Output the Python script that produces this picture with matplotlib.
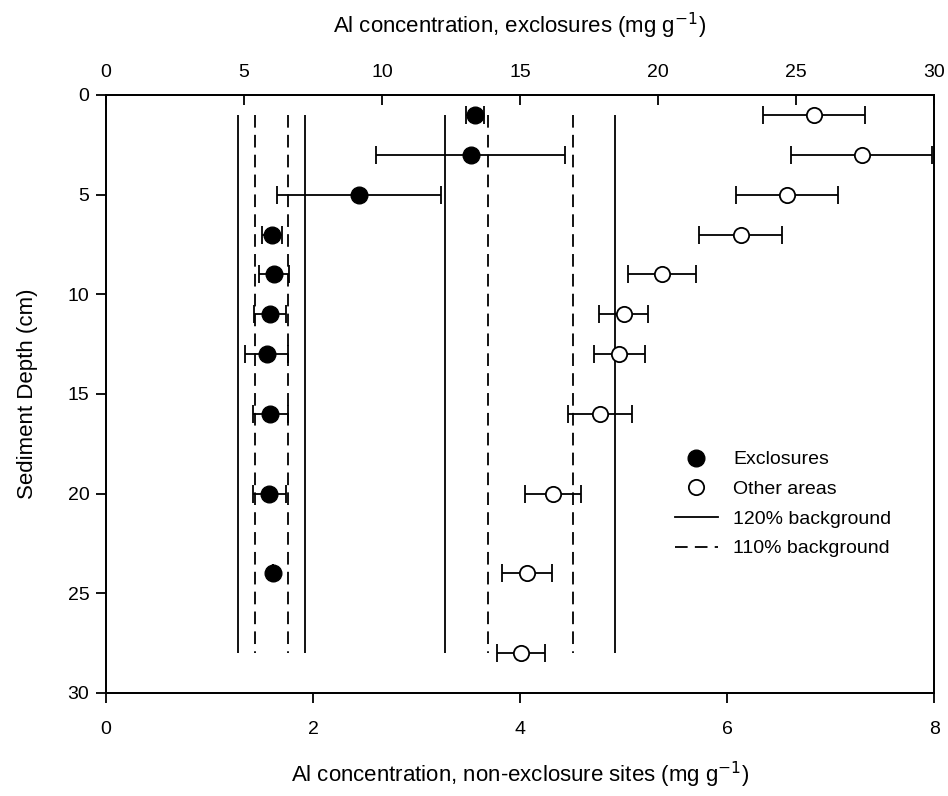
import matplotlib
matplotlib.use("Agg")
import matplotlib.pyplot as plt
from matplotlib.lines import Line2D

plt.rcParams['font.family'] = ['Liberation Sans', 'DejaVu Sans']

# Exclosures (top axis, mg g-1)
excl_depth = [1, 3, 5, 7, 9, 11, 13, 16, 20, 24]
excl_al = [13.37, 13.22, 9.17, 6.03, 6.09, 5.95, 5.82, 5.95, 5.92, 6.04]
excl_err = [0.33, 3.42, 2.96, 0.36, 0.55, 0.58, 0.79, 0.63, 0.59, 0.0]

# Other areas (bottom axis, mg g-1)
other_depth = [1, 3, 5, 7, 9, 11, 13, 16, 20, 24, 28]
other_al = [6.84, 7.30, 6.58, 6.13, 5.37, 5.00, 4.96, 4.77, 4.32, 4.065, 4.01]
other_err = [0.49, 0.68, 0.49, 0.40, 0.33, 0.24, 0.25, 0.31, 0.27, 0.24, 0.235]

# Background limits (±20 % solid, ±10 % dashed)
excl_bg_120 = [4.8, 7.2]
excl_bg_110 = [5.4, 6.6]
other_bg_120 = [3.28, 4.92]
other_bg_110 = [3.69, 4.51]
bg_depth = (1, 28)

fig = plt.figure(figsize=(9.48, 7.96), dpi=100)
ax = fig.add_axes([0.1118, 0.1294, 0.8735, 0.7513])
ax_top = ax.twiny()

lw = 1.3
dash = (0, (7, 4))
ax.vlines(other_bg_120, *bg_depth, colors='black', linewidth=lw)
ax.vlines(other_bg_110, *bg_depth, colors='black', linewidth=lw, linestyles=dash)
ax_top.vlines(excl_bg_120, *bg_depth, colors='black', linewidth=lw)
ax_top.vlines(excl_bg_110, *bg_depth, colors='black', linewidth=lw, linestyles=dash)

ax.errorbar(other_al, other_depth, xerr=other_err, fmt='o', mfc='white', mec='black',
            mew=1.3, ms=11, ecolor='black', elinewidth=1.3, capsize=6.5, capthick=1.3, zorder=3)
ax_top.errorbar(excl_al, excl_depth, xerr=excl_err, fmt='o', mfc='black', mec='black',
                ms=12, ecolor='black', elinewidth=1.3, capsize=6.5, capthick=1.3, zorder=3)

ax.set_xlim(0, 8)
ax_top.set_xlim(0, 30)
ax.set_ylim(30, 0)
ax.set_xticks([0, 2, 4, 6, 8])
ax_top.set_xticks([0, 5, 10, 15, 20, 25, 30])
ax.set_yticks([0, 5, 10, 15, 20, 25, 30])

for spine in list(ax.spines.values()) + list(ax_top.spines.values()):
    spine.set_linewidth(1.3)

ax.tick_params(axis='x', direction='out', length=7, width=1.3, pad=13, labelsize=14)
ax.tick_params(axis='y', direction='out', length=7, width=1.3, pad=5, labelsize=14)
ax_top.tick_params(axis='x', direction='in', length=7, width=1.3, pad=10, labelsize=14)

ax.set_xlabel('Al concentration, non-exclosure sites (mg g$^{-1}$)', fontsize=16, labelpad=16)
ax_top.set_xlabel('Al concentration, exclosures (mg g$^{-1}$)', fontsize=16, labelpad=22)
ax.set_ylabel('Sediment Depth (cm)', fontsize=16, labelpad=21)

handles = [
    Line2D([], [], marker='o', ls='none', mfc='black', mec='black', ms=12),
    Line2D([], [], marker='o', ls='none', mfc='white', mec='black', mew=1.3, ms=11),
    Line2D([], [], color='black', lw=lw),
    Line2D([], [], color='black', lw=lw, ls=dash),
]
labels = ['Exclosures', 'Other areas', '120% background', '110% background']
ax.legend(handles, labels, loc='upper left', bbox_to_anchor=(0.687, 0.405), frameon=False,
          fontsize=14, handlelength=2.2, handletextpad=0.8, labelspacing=0.62,
          borderpad=0, borderaxespad=0)

fig.savefig('out.png', dpi=100)
